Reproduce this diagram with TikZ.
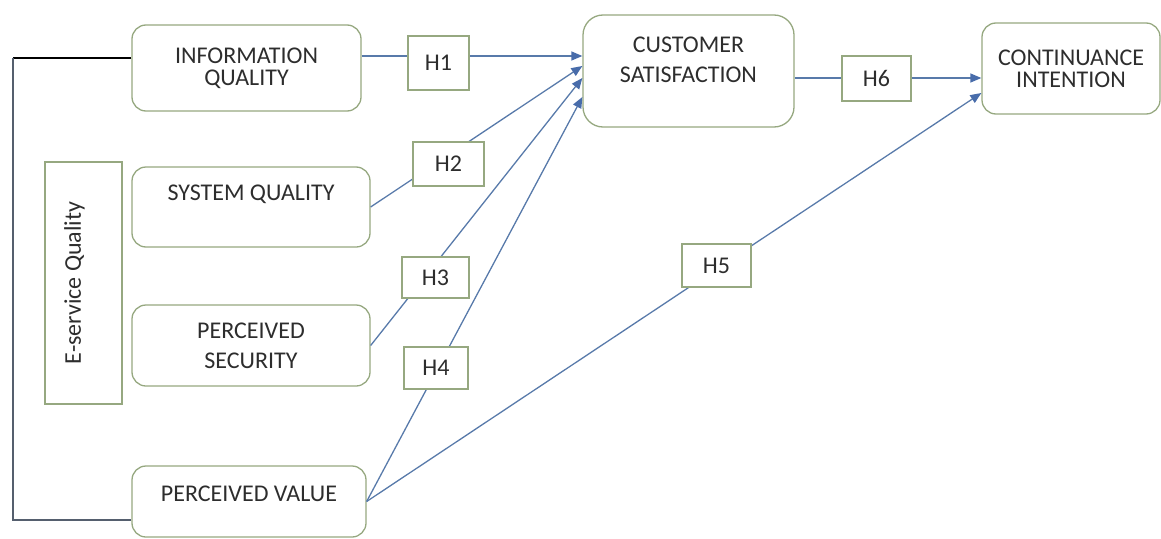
\documentclass[tikz,border=0pt]{standalone}
\usepackage{fontspec}
\setmainfont{Carlito}
\usetikzlibrary{arrows.meta}
\definecolor{boxgreen}{RGB}{150,168,128}
\definecolor{linkblue}{RGB}{88,122,170}
\definecolor{tipblue}{RGB}{72,108,170}
\definecolor{txtgray}{RGB}{45,45,45}
\definecolor{slate}{RGB}{85,95,110}

\begin{document}
\begin{tikzpicture}[x=1pt, y=-1pt,
    every node/.style={font=\fontsize{24pt}{22pt}\selectfont, text=txtgray},
    varbox/.style={draw=boxgreen, line width=1.3pt, rounded corners=14pt, align=center, inner sep=0pt},
    hbox/.style={draw=boxgreen, line width=1.3pt, fill=white, inner sep=0pt},
    link/.style={draw=linkblue, line width=1.3pt, -{Triangle[length=11pt,width=9pt,color=tipblue]}}]
    \useasboundingbox (0,0) rectangle (1161,538);

    % constructs
    \node[varbox, minimum width=229pt, minimum height=86pt] (info) at (246.5,68) {INFORMATION\\QUALITY};
    \node[varbox, minimum width=238pt, minimum height=80pt] (sysq) at (251,207) {SYSTEM QUALITY\\[6pt]\mbox{}};
    \node[varbox, minimum width=238pt, minimum height=81pt] (psec) at (251,345.5) {PERCEIVED\\[8pt]SECURITY};
    \node[varbox, minimum width=234pt, minimum height=71pt] (pval) at (249,501.5) {PERCEIVED VALUE\\[-6pt]\mbox{}};
    \node[varbox, rounded corners=20pt, minimum width=211pt, minimum height=112pt] (cust) at (688.5,71) {CUSTOMER\\[8pt]SATISFACTION\\\mbox{}};
    \node[varbox, minimum width=178pt, minimum height=91pt] (cont) at (1071,68.5) {CONTINUANCE\\INTENTION};
    \node[varbox, rounded corners=0pt, rotate=90, minimum width=242pt, minimum height=77pt] (eserv) at (83.5,283) {E-service Quality\\\mbox{}};

    % bracket on the left
    \coordinate (elbow) at (13,58);
    \draw[black, line width=1.3pt] ([yshift=10pt]info.west) -- (elbow);
    \draw[slate, line width=1.3pt] (elbow) |- ([yshift=-18.5pt]pval.west);

    % paths
    \draw[link] ([yshift=12pt]info.east) -- ([yshift=15pt]cust.west);
    \draw[link] (sysq.east) -- ([yshift=5pt]cust.west);
    \draw[link] (psec.east) -- ([yshift=-7pt]cust.west);
    \draw[link] (pval.east) -- ([yshift=-26pt]cust.west);
    \draw[link] (pval.east) -- ([yshift=-24.5pt]cont.west);
    \draw[link] ([yshift=-7pt]cust.east) -- ([yshift=-9.5pt]cont.west);

    % hypotheses
    \node[hbox, minimum width=61pt, minimum height=54pt] (h1) at (438.5,63) {H1};
    \node[hbox, minimum width=71pt, minimum height=44pt] (h2) at (448.5,164) {H2};
    \node[hbox, minimum width=67pt, minimum height=41pt] (h3) at (435.5,277.5) {H3};
    \node[hbox, minimum width=64pt, minimum height=42pt] (h4) at (436,368) {H4};
    \node[hbox, minimum width=69pt, minimum height=43pt] (h5) at (716.5,265.5) {H5};
    \node[hbox, minimum width=69pt, minimum height=45pt] (h6) at (876.5,78.5) {H6};
\end{tikzpicture}
\end{document}
